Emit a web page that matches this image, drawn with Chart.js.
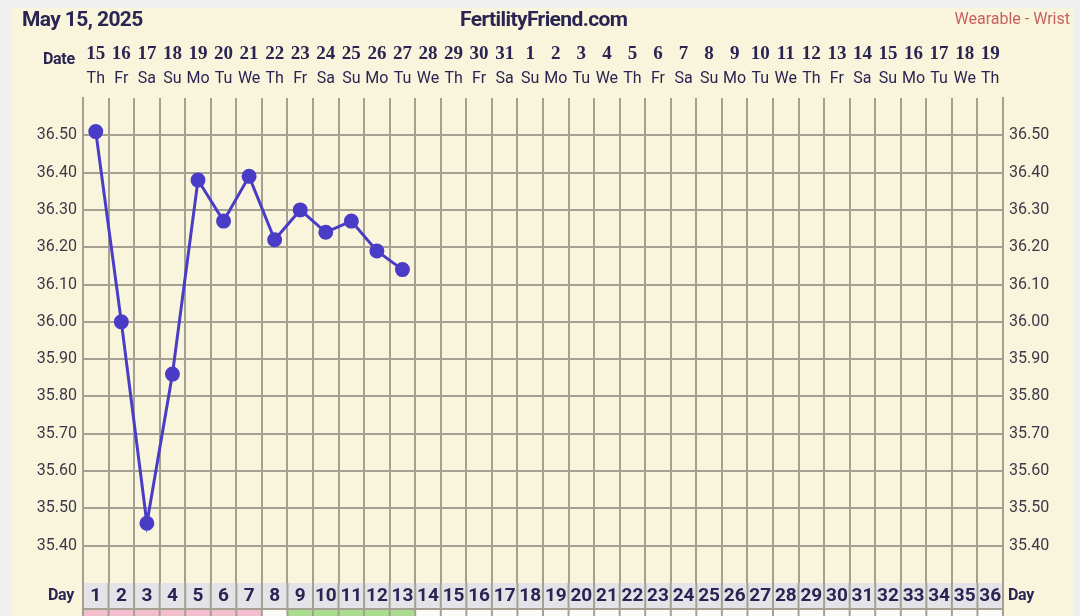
<!DOCTYPE html>
<html>
<head>
<meta charset="utf-8">
<script src="https://cdn.jsdelivr.net/npm/chart.js@4.4.1/dist/chart.umd.min.js"></script>
<style>
  html, body { margin: 0; padding: 0; background: #efefef; overflow: hidden; }
  #panel { position: absolute; left: 12px; top: 8px; width: 1061px; height: 620px; background: #f9f5dc; }
  #wrap { position: absolute; left: 0; top: 0; width: 1080px; height: 616px; }
  .txt { position: absolute; font-family: Roboto, "Noto Sans", sans-serif; color: #2a2452; white-space: nowrap; }
  .hd { font-weight: bold; font-size: 21px; letter-spacing: -0.6px; top: 7px; }
  .lbl { font-weight: bold; font-size: 16px; letter-spacing: -0.3px; }
</style>
</head>
<body>
<div id="panel"></div>
<div id="wrap"><canvas id="fc" width="1080" height="616"></canvas></div>
<div class="txt hd" style="left:22px;">May 15, 2025</div>
<div class="txt hd" style="left:460px;">FertilityFriend.com</div>
<div class="txt" style="right:10px;top:9px;font-size:16px;color:#c9605f;">Wearable - Wrist</div>
<div class="txt lbl" style="left:43px;top:49px;">Date</div>
<div class="txt lbl" style="left:48px;top:585px;">Day</div>
<div class="txt lbl" style="left:1008px;top:585px;">Day</div>
<script>
(function () {
  "use strict";

  // ---------- Dados ----------
  var dias = ["1","2","3","4","5","6","7","8","9","10","11","12","13","14","15","16","17","18",
              "19","20","21","22","23","24","25","26","27","28","29","30","31","32","33","34","35","36"];
  var datas = ["15","16","17","18","19","20","21","22","23","24","25","26","27","28","29","30","31",
               "1","2","3","4","5","6","7","8","9","10","11","12","13","14","15","16","17","18","19"];
  var semana = ["Th","Fr","Sa","Su","Mo","Tu","We","Th","Fr","Sa","Su","Mo","Tu","We","Th","Fr","Sa","Su",
                "Mo","Tu","We","Th","Fr","Sa","Su","Mo","Tu","We","Th","Fr","Sa","Su","Mo","Tu","We","Th"];
  var temperaturas = [36.51, 36.00, 35.46, 35.86, 36.38, 36.27, 36.39, 36.22, 36.30, 36.24, 36.27, 36.19, 36.14];
  // cor da linha de baixo (cortada) por dia
  var faixa = ["p","p","p","p","p","p","p","w","g","g","g","g","g"];
  var Y_MIN = 35.30, Y_MAX = 36.60;

  var TXT = "#2a2452";
  var GRADE = "#a5a091";

  function rotulo(v) {
    var c = Math.round(v * 100);
    if (c % 10 !== 0 || c <= 3530 || c >= 3660) return null;
    return (c / 100).toFixed(2);
  }

  // ---------- Faixa "Day" (fundo das células) ----------
  var faixaDia = {
    id: "faixaDia",
    beforeDraw: function (chart) {
      var ctx = chart.ctx, a = chart.chartArea, x = chart.scales.x;
      var larg = (a.right - a.left) / dias.length;
      var topo = a.bottom, meio = a.bottom + 26;
      ctx.save();
      ctx.fillStyle = "#e4e3e8";
      ctx.fillRect(a.left, topo, a.right - a.left, 26);
      for (var i = 0; i < dias.length; i++) {
        var cx = x.getPixelForValue(i);
        var f = faixa[i];
        ctx.fillStyle = f === "p" ? "#f3bfcf" : f === "g" ? "#a9dc8f" : "#fbfbf8";
        ctx.fillRect(cx - larg / 2, meio, larg, 20);
      }
      ctx.strokeStyle = GRADE;
      ctx.lineWidth = 2;
      for (var j = 0; j <= dias.length; j++) {
        var px = a.left + j * larg;
        ctx.beginPath(); ctx.moveTo(px, topo); ctx.lineTo(px, chart.height); ctx.stroke();
      }
      ctx.beginPath(); ctx.moveTo(a.left, meio); ctx.lineTo(a.right, meio); ctx.stroke();
      ctx.restore();
    }
  };

  new Chart(document.getElementById("fc"), {
    type: "line",
    data: {
      labels: dias,
      datasets: [{
        data: temperaturas,
        borderColor: "#4a3cc6",
        backgroundColor: "#4a3cc6",
        borderWidth: 3,
        pointRadius: 6,
        pointHoverRadius: 6,
        tension: 0
      }]
    },
    options: {
      responsive: false,
      animation: false,
      events: [],
      layout: { padding: { top: 36, left: 0, right: 0, bottom: 0 } },
      plugins: { legend: { display: false }, tooltip: { enabled: false } },
      scales: {
        x: {
          type: "category", position: "bottom", offset: true,
          grid: { offset: true, color: GRADE, lineWidth: 2, drawTicks: false },
          border: { display: false },
          ticks: { autoSkip: false, maxRotation: 0, padding: 2, color: TXT,
                   font: { family: "Roboto", size: 19, weight: "bold" } },
          afterFit: function (s) { s.height = 33; }
        },
        xSemana: {
          type: "category", labels: semana, position: "top", offset: true, weight: 0,
          grid: { display: false, drawTicks: false }, border: { display: false },
          ticks: { autoSkip: false, maxRotation: 0, padding: 9, color: TXT,
                   font: { family: "Roboto", size: 16 } },
          afterFit: function (s) { s.height = 32; }
        },
        xData: {
          type: "category", labels: datas, position: "top", offset: true, weight: 1,
          grid: { display: false, drawTicks: false }, border: { display: false },
          ticks: { autoSkip: false, maxRotation: 0, padding: 1, color: TXT,
                   font: { family: "Liberation Serif", size: 19, weight: "bold" } },
          afterFit: function (s) { s.height = 30; }
        },
        y: {
          position: "left", min: Y_MIN, max: Y_MAX,
          grid: { color: GRADE, lineWidth: 2, drawTicks: false },
          border: { color: GRADE, width: 2 },
          ticks: { stepSize: 0.05, autoSkip: false, padding: 6, color: "#3b3848",
                   font: { family: "Roboto", size: 16 }, callback: rotulo },
          afterFit: function (s) { s.width = 83; }
        },
        y2: {
          position: "right", min: Y_MIN, max: Y_MAX,
          grid: { display: false, drawTicks: false },
          border: { color: GRADE, width: 2 },
          ticks: { stepSize: 0.05, autoSkip: false, padding: 6, color: "#3b3848",
                   font: { family: "Roboto", size: 16 }, callback: rotulo },
          afterFit: function (s) { s.width = 77; }
        }
      }
    },
    plugins: [faixaDia]
  });
})();
</script>
</body>
</html>
